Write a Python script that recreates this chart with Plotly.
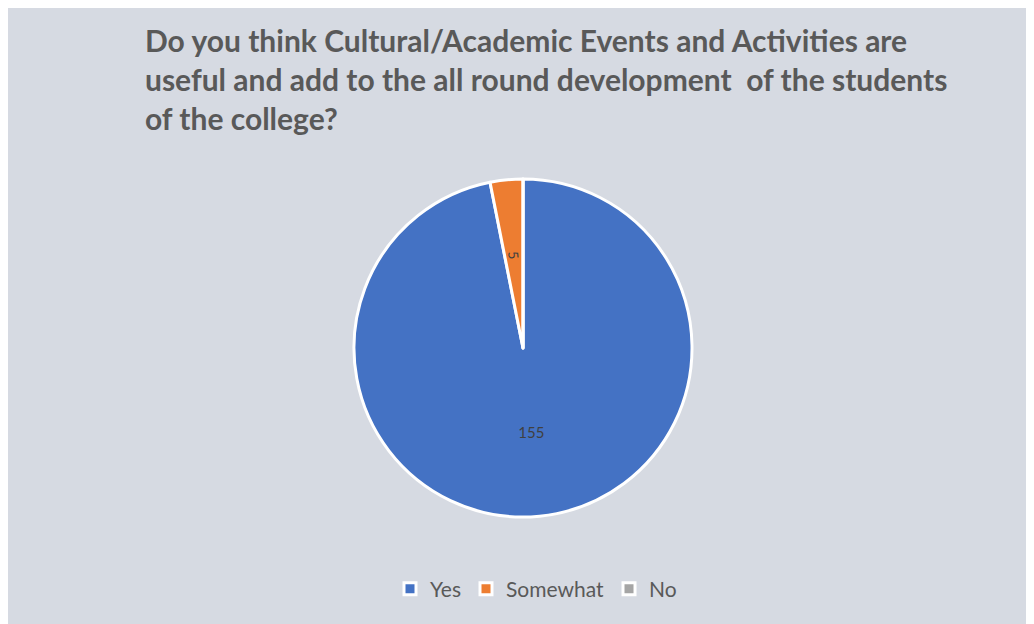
import plotly.graph_objects as go

categories = ["Yes", "Somewhat", "No"]
values = [155, 5, 0]
colors = ["#4472C4", "#ED7D31", "#A5A5A5"]

title_text = ("Do you think Cultural/Academic Events and Activities are<br>"
              "useful and add to the all round development  of the students<br>"
              "of the college?")

W, H = 1034, 624
# the page adds an 8px body margin, so figure coords = page coords - 8
cx, cy, r = 515, 340, 169
r_lbl = 98  # radius of the label-only overlay for the narrow slice


def dom(rad):
    return dict(x=[(cx - rad) / W, (cx + rad) / W], y=[1 - (cy + rad) / H, 1 - (cy - rad) / H])


main_text = [str(v) if c == "Yes" else "" for c, v in zip(categories, values)]
narrow_text = [str(v) if c == "Somewhat" else "" for c, v in zip(categories, values)]

fig = go.Figure()
fig.add_trace(go.Pie(
    labels=categories,
    values=values,
    sort=False,
    direction="clockwise",
    rotation=0,
    marker=dict(colors=colors, line=dict(color="white", width=3)),
    text=main_text,
    textinfo="text",
    textposition="inside",
    insidetextorientation="auto",
    textfont=dict(family="Lato", size=15, color="#404040"),
    domain=dom(r),
    hoverinfo="label+value",
))
fig.add_trace(go.Pie(
    labels=categories,
    values=values,
    sort=False,
    direction="clockwise",
    rotation=0,
    marker=dict(colors=["rgba(0,0,0,0)"] * 3, line=dict(width=0)),
    text=narrow_text,
    textinfo="text",
    textposition="inside",
    insidetextorientation="radial",
    textfont=dict(family="Lato", size=15, color="#404040"),
    domain=dom(r_lbl),
    hoverinfo="skip",
    showlegend=False,
))

fig.update_layout(
    width=W, height=H,
    margin=dict(l=0, r=0, t=0, b=0),
    paper_bgcolor="#D6DAE2",
    plot_bgcolor="#D6DAE2",
    title=dict(text=title_text, x=137 / W, xanchor="left", y=1 - 44 / H, yanchor="top",
               font=dict(family="Lato", size=30, color="#595959", weight="bold")),
    showlegend=True,
    legend=dict(orientation="h", x=(536 - 8) / W, xanchor="center", y=1 - 581 / H, yanchor="middle",
                font=dict(family="Lato", size=21, color="#595959"),
                bgcolor="rgba(0,0,0,0)", itemwidth=30),
)

fig.write_html("out.html")
